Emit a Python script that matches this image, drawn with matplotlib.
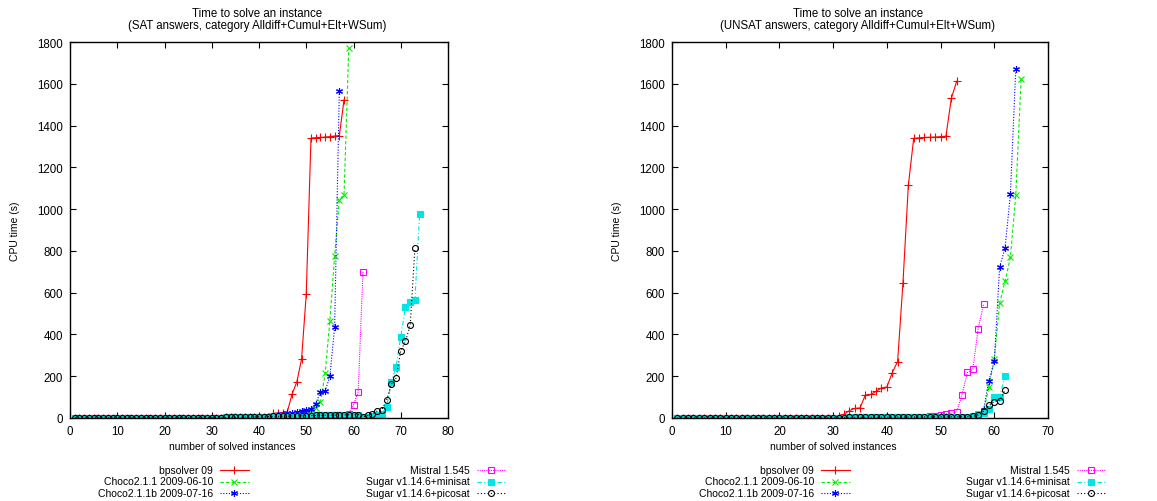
import matplotlib
matplotlib.use("Agg")
import matplotlib.pyplot as plt
from matplotlib.lines import Line2D

plt.rcParams['font.family'] = ['Liberation Sans', 'DejaVu Sans']
FS = 8.3
FS_SMALL = 7.5

# near-zero solve times shared by all solvers on the easy instances
SAT_BASE = [0.1, 0.1, 0.1, 0.2, 0.2, 0.2, 0.3, 0.3, 0.3, 0.4,
            0.4, 0.5, 0.5, 0.5, 0.6, 0.6, 0.7, 0.7, 0.8, 0.8,
            0.9, 1.0, 1.0, 1.1, 1.2, 1.3, 1.4, 1.5, 1.6, 1.8,
            2.0, 2.2, 2.5, 2.8, 3.0, 3.5, 4.0, 4.5, 5.0, 6.0,
            6.5, 7.0, 7.5, 8.0, 8.5, 9.0, 9.5, 10.0, 10.5, 11.0,
            11.5, 12.0, 12.5, 13.0, 13.5, 14.0, 14.5, 15.0, 15.5, 16.0,
            16.5, 17.0]
UNSAT_BASE = [0.1, 0.1, 0.1, 0.2, 0.2, 0.2, 0.3, 0.3, 0.3, 0.4,
              0.4, 0.5, 0.5, 0.5, 0.6, 0.6, 0.7, 0.7, 0.8, 0.8,
              0.9, 1.0, 1.0, 1.1, 1.2, 1.3, 1.4, 1.5, 1.6, 1.8,
              2.0, 2.2, 2.5, 2.8, 3.0, 3.2, 3.4, 3.6, 3.8, 4.0,
              4.2, 4.4, 4.6, 4.8, 5.0, 5.2, 5.4, 5.6, 5.8, 6.0,
              6.2, 6.4, 6.6, 6.8, 7.0, 7.2]

labels = ["bpsolver 09", "Choco2.1.1 2009-06-10", "Choco2.1.1b 2009-07-16",
          "Mistral 1.545", "Sugar v1.14.6+minisat", "Sugar v1.14.6+picosat"]

# SAT answers
sat_bpsolver = SAT_BASE[:42] + [22, 25, 26, 30, 115, 172, 281, 592,
                                1340, 1342, 1343, 1345, 1347, 1350, 1352, 1524]
sat_choco = SAT_BASE[:42] + [5, 6, 8, 10, 12, 15, 18, 22, 30,
                             46, 75, 214, 466, 774, 1045, 1069, 1771]
sat_chocob = SAT_BASE[:42] + [10, 14, 18, 22, 25, 30, 33, 37, 43,
                              68, 123, 129, 200, 434, 1564]
sat_mistral = SAT_BASE[:57] + [8, 21, 64, 126, 699]
sat_minisat = SAT_BASE[:61] + [3, 5, 10, 15, 20, 53, 170, 244, 389, 533, 557, 566, 978]
sat_picosat = SAT_BASE[:61] + [5, 12, 20, 33, 40, 85, 161, 191, 321, 367, 445, 814]

# UNSAT answers
unsat_bpsolver = UNSAT_BASE[:30] + [10, 18, 35, 46, 48, 110, 113, 128, 144, 148, 217, 270,
                                    648, 1114, 1339, 1341, 1343, 1344, 1345, 1347, 1349,
                                    1530, 1612]
unsat_choco = UNSAT_BASE[:57] + [15, 30, 147, 282, 550, 654, 769, 1066, 1623]
unsat_chocob = UNSAT_BASE[:57] + [15, 38, 179, 271, 724, 814, 1071, 1671]
unsat_mistral = UNSAT_BASE[:47] + [8, 11, 16, 19, 22, 30, 112, 218, 233, 428, 544]
unsat_minisat = UNSAT_BASE[:55] + [10, 18, 25, 45, 99, 100, 203]
unsat_picosat = UNSAT_BASE[:56] + [15, 33, 62, 78, 83, 133]

styles = [
    dict(color="#ff0000", ls="-", marker="+", ms=5.5, mfc="#ff0000"),
    dict(color="#00ee00", ls=(0, (3, 2)), marker="x", ms=4.5, mfc="#00ee00"),
    dict(color="#0000ff", ls=(0, (1, 1.5)), marker=(6, 2, 0), ms=5, mfc="#0000ff"),
    dict(color="#ff00ff", ls=(0, (1, 1)), marker="s", ms=4.3, mfc="none"),
    dict(color="#00e5e5", ls=(0, (4, 2, 1, 2)), marker="s", ms=4.5, mfc="#00e5e5"),
    dict(color="#000000", ls=(0, (1, 2)), marker="o", ms=4.3, mfc="none"),
]

fig = plt.figure(figsize=(11.57, 5.02), dpi=100)
W, H = 1157, 502


def draw(ax_px, xmax, series, subtitle, leg_x):
    x0, x1 = ax_px
    ax = fig.add_axes([x0 / W, (H - 419) / H, (x1 - x0) / W, 376 / H])
    for vals, st in zip(series, styles):
        xs = list(range(1, len(vals) + 1))
        ax.plot(xs, vals, lw=0.8, mew=0.8, mec=st["color"], **st)
    ax.set_xlim(0, xmax)
    ax.set_ylim(0, 1800)
    ax.set_xticks(range(0, xmax + 1, 10))
    ax.set_yticks(range(0, 1801, 200))
    ax.tick_params(direction="in", length=4, width=0.8, top=True, right=True,
                   labelsize=FS, pad=5)
    for s in ax.spines.values():
        s.set_linewidth(1.0)
    cx = (x0 + x1) / 2
    fig.text((cx - 2) / W, 1 - 14 / H, "Time to solve an instance", ha="center",
             va="center", fontsize=FS)
    fig.text((cx - 2) / W, 1 - 26 / H, subtitle, ha="center", va="center", fontsize=FS)
    fig.text((cx - 27) / W, 1 - 447 / H, "number of solved instances", ha="center",
             va="center", fontsize=FS_SMALL)
    fig.text((x0 - 55) / W, 1 - 231 / H, "CPU time (s)", rotation=90, ha="center",
             va="center", fontsize=FS_SMALL)
    # gnuplot style key below the plot
    rows = [471, 482.5, 494]
    for i, (lab, st) in enumerate(zip(labels, styles)):
        col, row = divmod(i, 3)
        tx = leg_x[col]
        y = 1 - rows[row] / H
        fig.text(tx / W, y, lab, ha="right", va="center", fontsize=FS_SMALL)
        xa = [(tx + 7) / W, (tx + 21) / W, (tx + 36) / W]
        fig.add_artist(Line2D(xa, [y, y, y], transform=fig.transFigure, lw=0.8,
                              mew=0.8, mec=st["color"], markevery=[1], **st))
    return ax


draw((70, 448), 80,
     [sat_bpsolver, sat_choco, sat_chocob, sat_mistral, sat_minisat, sat_picosat],
     "(SAT answers, category Alldiff+Cumul+Elt+WSum)", [213, 470])
draw((672, 1048), 70,
     [unsat_bpsolver, unsat_choco, unsat_chocob, unsat_mistral, unsat_minisat, unsat_picosat],
     "(UNSAT answers, category Alldiff+Cumul+Elt+WSum)", [814, 1070])

fig.savefig("out.png", dpi=100)
